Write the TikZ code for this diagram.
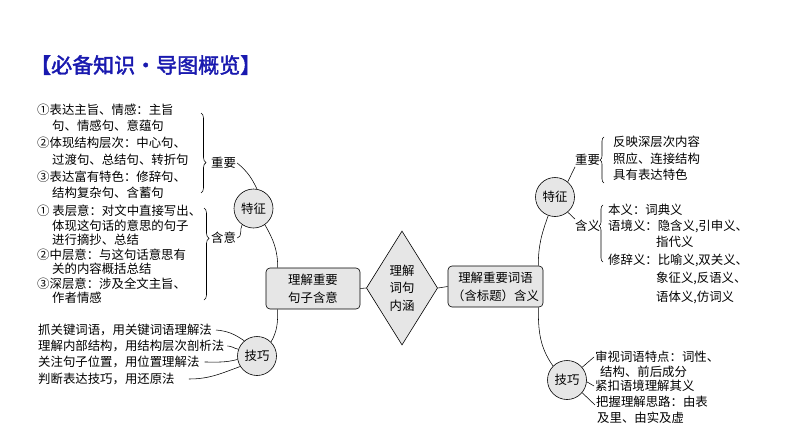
\documentclass[tikz,border=0pt]{standalone}
\usepackage{fontspec}
\setmainfont{Noto Sans CJK SC}
\newfontfamily\titlefont[FakeBold=2]{Noto Sans CJK SC}
\usetikzlibrary{shapes.geometric,decorations.pathreplacing}
\definecolor{titleblue}{RGB}{25,25,175}
\definecolor{boxgray}{RGB}{230,230,230}
\begin{document}
\begin{tikzpicture}[x=1pt,y=-1pt,
  txt/.style={anchor=west,inner sep=0pt,font=\fontsize{12.4}{14}\selectfont},
  circ/.style={circle,draw,line width=0.6pt,fill=boxgray,minimum size=39pt,inner sep=0pt,font=\fontsize{12.4}{14}\selectfont},
  rbox/.style={draw,line width=0.6pt,fill=boxgray,rounded corners=4pt,align=center,minimum width=94pt,minimum height=41pt,inner sep=0pt,font=\fontsize{12.4}{18}\selectfont},
  conn/.style={draw,line width=0.55pt},
  brc/.style={draw,line width=0.55pt,decorate,decoration={brace,amplitude=5pt,aspect=#1}},
]
\useasboundingbox (0,0) rectangle (794,447);

% title
\node[anchor=west,inner sep=0pt,text=titleblue,font=\titlefont\fontsize{21}{24}\selectfont] (title) at (30,65) {【必备知识・导图概览】};

% left block 1
\node[txt] (a1) at (37,110) {①表达主旨、情感：主旨};
\node[txt] (a2) at (52,126) {句、情感句、意蕴句};
\node[txt] (a3) at (37,143) {②体现结构层次：中心句、};
\node[txt] (a4) at (52,160) {过渡句、总结句、转折句};
\node[txt] (a5) at (37,177) {③表达富有特色：修辞句、};
\node[txt] (a6) at (52,193) {结构复杂句、含蓄句};
\coordinate (br1a) at (201,113);
\coordinate (br1b) at (201,193);
\draw[brc=0.62] (br1a) -- (br1b);
\node[txt] (zy1) at (211,163) {重要};

% left block 2
\node[txt] (b1) at (37,211) {① 表层意：对文中直接写出、};
\node[txt] (b2) at (52,226) {体现这句话的意思的句子};
\node[txt] (b3) at (52,240) {进行摘抄、总结};
\node[txt] (b4) at (37,255) {②中层意：与这句话意思有};
\node[txt] (b5) at (52,269) {关的内容概括总结};
\node[txt] (b6) at (37,284) {③深层意：涉及全文主旨、};
\node[txt] (b7) at (52,298) {作者情感};
\coordinate (br2a) at (204,208);
\coordinate (br2b) at (204,300);
\draw[brc=0.33] (br2a) -- (br2b);
\node[txt] (hy1) at (211,238) {含意};

% left circles and box
\node[circ] (tz1) at (253.5,208.5) {特征};
\node[rbox] (box1) at (313,288.5) {理解重要\\句子含意};
\node[circ] (jq1) at (257,356) {技巧};

% techniques left
\node[txt] (t1) at (38,330) {抓关键词语，用关键词语理解法};
\node[txt] (t2) at (38,346) {理解内部结构，用结构层次剖析法};
\node[txt] (t3) at (38,362) {关注句子位置，用位置理解法};
\node[txt] (t4) at (38,379) {判断表达技巧，用还原法};

% diamond
\node[diamond,draw,line width=0.6pt,fill=boxgray,minimum width=60pt,minimum height=114pt,inner sep=0pt,align=center,font=\fontsize{12.4}{17.5}\selectfont] (dia) at (402,288) {理解\\词句\\内涵};

% right box and circles
\node[rbox,minimum width=95pt] (box2) at (495.5,286.5) {理解重要词语\\（含标题）含义};
\node[circ] (tz2) at (555,197) {特征};
\node[circ] (jq2) at (567,380) {技巧};

% right upper
\node[txt] (zy2) at (575,160) {重要};
\coordinate (br3a) at (604,183);
\coordinate (br3b) at (604,137);
\draw[brc=0.5,decoration={amplitude=4pt}] (br3a) -- (br3b);
\node[txt] (c1) at (613,142) {反映深层次内容};
\node[txt] (c2) at (613,159) {照应、连接结构};
\node[txt] (c3) at (613,175) {具有表达特色};

\node[txt] (hy2) at (575,226) {含义};
\coordinate (br4a) at (603,262);
\coordinate (br4b) at (603,205);
\draw[brc=0.63,decoration={amplitude=4pt}] (br4a) -- (br4b);
\node[txt] (d1) at (608,210) {本义：词典义};
\node[txt] (d2) at (608,226) {语境义：隐含义,引申义、};
\node[txt] (d3) at (656,242) {指代义};
\node[txt] (d4) at (608,260) {修辞义：比喻义,双关义、};
\node[txt] (d5) at (656,278) {象征义,反语义、};
\node[txt] (d6) at (656,297) {语体义,仿词义};

% right lower
\node[txt] (e1) at (595,357) {审视词语特点：词性、};
\node[txt] (e2) at (600,372) {结构、前后成分};
\node[txt] (e3) at (595,386) {紧扣语境理解其义};
\node[txt] (e4) at (596,402) {把握理解思路：由表};
\node[txt] (e5) at (597,418) {及里、由实及虚};

% connectors left
\draw[conn] ([xshift=1pt]zy1.east) to[out=-40,in=115] (tz1.80);
\draw[conn] ([xshift=1pt]hy1.east) to[out=10,in=-120] (tz1.235);
\draw[conn] (tz1.-55) to[out=-60,in=90] ([xshift=12pt]box1.north west);
\draw[conn] ([xshift=12pt]box1.south west) to[out=-90,in=60] (jq1.45);
\draw[conn] ([xshift=4pt]t1.east) to[out=-5,in=145] (jq1.130);
\draw[conn] ([xshift=3pt]t2.east) to[out=0,in=170] (jq1.160);
\draw[conn] ([xshift=5pt]t3.east) to[out=0,in=195] (jq1.190);
\draw[conn] ([xshift=14pt]t4.east) to[out=0,in=200] (jq1.212);

% center links
\draw[conn] (box1.east) -- (dia.west);
\draw[conn] (dia.east) -- (box2.west);

% connectors right
\draw[conn] ([xshift=-5pt]box2.north east) to[out=90,in=-110] (tz2.250);
\draw[conn] ([xshift=-5pt]box2.south east) to[out=-90,in=125] (jq2.135);
\draw[conn] (tz2.50) -- ([yshift=-1pt]zy2.south west);
\draw[conn] (tz2.-50) -- ([yshift=1pt]hy2.north west);
\draw[conn] (jq2.40) -- ([xshift=-1pt]e1.west);
\draw[conn] (jq2.-5) -- ([xshift=-1pt]e3.west);
\draw[conn] (jq2.-40) -- ([xshift=-1pt,yshift=-3pt]e4.west);
\end{tikzpicture}
\end{document}
